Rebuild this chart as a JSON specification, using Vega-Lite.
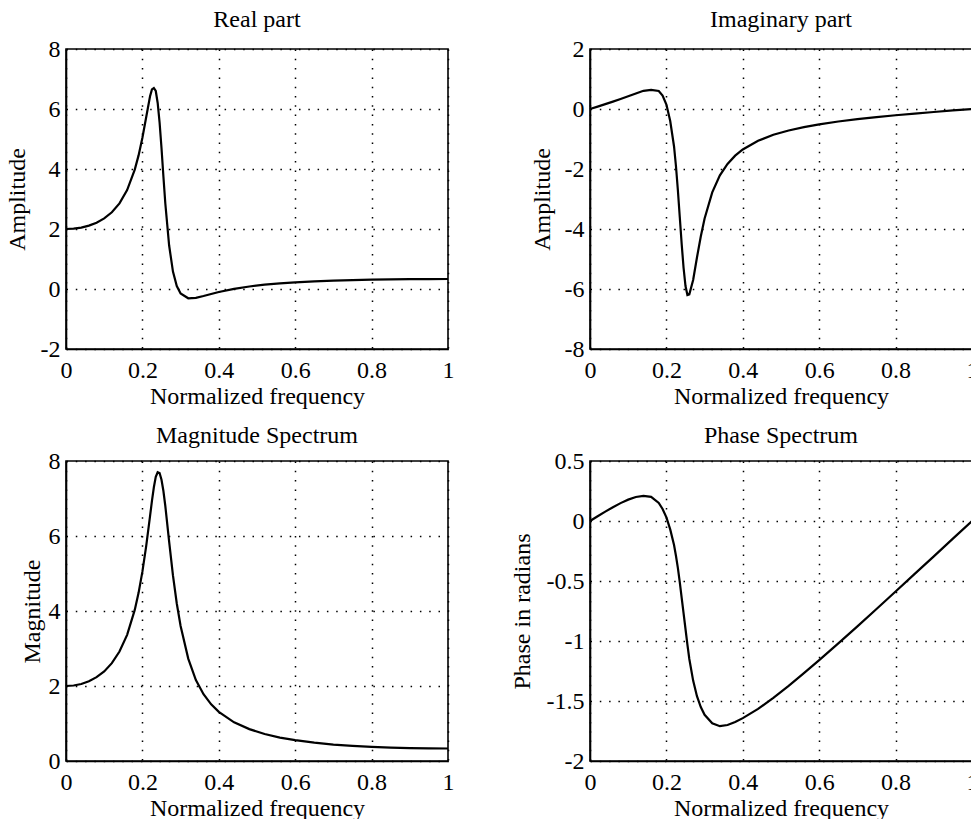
{
  "$schema": "https://vega.github.io/schema/vega-lite/v6.json",
  "padding": {"left": 4, "top": 7, "right": -8, "bottom": 0},
  "background": "white",
  "datasets": {
    "h": [
      {"f": 0, "re": 2.000, "im": 0.000, "mag": 2.000, "ph": 0.000},
      {"f": 0.02, "re": 2.011, "im": 0.080, "mag": 2.013, "ph": 0.040},
      {"f": 0.04, "re": 2.048, "im": 0.161, "mag": 2.054, "ph": 0.078},
      {"f": 0.06, "re": 2.112, "im": 0.245, "mag": 2.126, "ph": 0.115},
      {"f": 0.08, "re": 2.210, "im": 0.332, "mag": 2.235, "ph": 0.149},
      {"f": 0.10, "re": 2.352, "im": 0.424, "mag": 2.390, "ph": 0.178},
      {"f": 0.12, "re": 2.557, "im": 0.518, "mag": 2.609, "ph": 0.200},
      {"f": 0.14, "re": 2.854, "im": 0.607, "mag": 2.918, "ph": 0.210},
      {"f": 0.16, "re": 3.297, "im": 0.640, "mag": 3.364, "ph": 0.201},
      {"f": 0.18, "re": 3.979, "im": 0.600, "mag": 4.029, "ph": 0.150},
      {"f": 0.19, "re": 4.454, "im": 0.450, "mag": 4.484, "ph": 0.100},
      {"f": 0.20, "re": 5.042, "im": 0.150, "mag": 5.049, "ph": 0.030},
      {"f": 0.21, "re": 5.732, "im": -0.400, "mag": 5.737, "ph": -0.070},
      {"f": 0.22, "re": 6.427, "im": -1.250, "mag": 6.530, "ph": -0.200},
      {"f": 0.225, "re": 6.650, "im": -1.900, "mag": 6.936, "ph": -0.290},
      {"f": 0.23, "re": 6.700, "im": -2.700, "mag": 7.300, "ph": -0.390},
      {"f": 0.235, "re": 6.600, "im": -3.600, "mag": 7.580, "ph": -0.510},
      {"f": 0.24, "re": 6.200, "im": -4.500, "mag": 7.700, "ph": -0.640},
      {"f": 0.245, "re": 5.550, "im": -5.300, "mag": 7.680, "ph": -0.770},
      {"f": 0.25, "re": 4.700, "im": -5.900, "mag": 7.500, "ph": -0.900},
      {"f": 0.255, "re": 3.750, "im": -6.200, "mag": 7.200, "ph": -1.030},
      {"f": 0.26, "re": 2.850, "im": -6.180, "mag": 6.800, "ph": -1.150},
      {"f": 0.27, "re": 1.450, "im": -5.700, "mag": 5.850, "ph": -1.330},
      {"f": 0.28, "re": 0.580, "im": -4.950, "mag": 4.950, "ph": -1.460},
      {"f": 0.29, "re": 0.100, "im": -4.250, "mag": 4.200, "ph": -1.550},
      {"f": 0.30, "re": -0.150, "im": -3.650, "mag": 3.600, "ph": -1.615},
      {"f": 0.32, "re": -0.310, "im": -2.780, "mag": 2.730, "ph": -1.685},
      {"f": 0.34, "re": -0.295, "im": -2.210, "mag": 2.160, "ph": -1.710},
      {"f": 0.36, "re": -0.235, "im": -1.830, "mag": 1.780, "ph": -1.700},
      {"f": 0.38, "re": -0.165, "im": -1.555, "mag": 1.510, "ph": -1.675},
      {"f": 0.40, "re": -0.100, "im": -1.350, "mag": 1.310, "ph": -1.643},
      {"f": 0.44, "re": 0.005, "im": -1.060, "mag": 1.030, "ph": -1.566},
      {"f": 0.48, "re": 0.084, "im": -0.860, "mag": 0.850, "ph": -1.474},
      {"f": 0.52, "re": 0.143, "im": -0.715, "mag": 0.720, "ph": -1.374},
      {"f": 0.56, "re": 0.188, "im": -0.602, "mag": 0.625, "ph": -1.268},
      {"f": 0.60, "re": 0.223, "im": -0.510, "mag": 0.556, "ph": -1.159},
      {"f": 0.65, "re": 0.256, "im": -0.416, "mag": 0.488, "ph": -1.020},
      {"f": 0.70, "re": 0.280, "im": -0.337, "mag": 0.438, "ph": -0.878},
      {"f": 0.75, "re": 0.299, "im": -0.269, "mag": 0.402, "ph": -0.733},
      {"f": 0.80, "re": 0.312, "im": -0.208, "mag": 0.375, "ph": -0.588},
      {"f": 0.85, "re": 0.322, "im": -0.152, "mag": 0.356, "ph": -0.441},
      {"f": 0.90, "re": 0.329, "im": -0.100, "mag": 0.343, "ph": -0.295},
      {"f": 0.95, "re": 0.332, "im": -0.049, "mag": 0.336, "ph": -0.147},
      {"f": 1.0, "re": 0.334, "im": 0.000, "mag": 0.334, "ph": 0.000}
    ]
  },
  "columns": 2,
  "bounds": "flush",
  "spacing": {"row": 112, "column": 142},
  "concat": [
    {
      "title": {"text": "Real part", "offset": 5},
      "width": 382, "height": 300,
      "data": {"name": "h"},
      "mark": {"type": "line", "color": "black", "strokeWidth": 2.2},
      "encoding": {
        "x": {"field": "f", "type": "quantitative", "scale": {"domain": [0, 1], "nice": false},
              "axis": {"title": "Normalized frequency", "values": [0, 0.2, 0.4, 0.6, 0.8, 1], "labelExpr": "replace(format(datum.value, '~g'), '−', '-')"}},
        "y": {"field": "re", "type": "quantitative", "scale": {"domain": [-2, 8], "nice": false, "zero": false},
              "axis": {"title": "Amplitude", "values": [-2, 0, 2, 4, 6, 8], "titleX": -49, "titleY": 150, "labelExpr": "replace(format(datum.value, '~g'), '−', '-')"}}
      }
    },
    {
      "title": {"text": "Imaginary part", "offset": 5},
      "width": 382, "height": 300,
      "data": {"name": "h"},
      "mark": {"type": "line", "color": "black", "strokeWidth": 2.2},
      "encoding": {
        "x": {"field": "f", "type": "quantitative", "scale": {"domain": [0, 1], "nice": false},
              "axis": {"title": "Normalized frequency", "values": [0, 0.2, 0.4, 0.6, 0.8, 1], "labelExpr": "replace(format(datum.value, '~g'), '−', '-')"}},
        "y": {"field": "im", "type": "quantitative", "scale": {"domain": [-8, 2], "nice": false, "zero": false},
              "axis": {"title": "Amplitude", "values": [-8, -6, -4, -2, 0, 2], "titleX": -48, "titleY": 150, "labelExpr": "replace(format(datum.value, '~g'), '−', '-')"}}
      }
    },
    {
      "title": {"text": "Magnitude Spectrum", "offset": 1},
      "width": 382, "height": 300,
      "data": {"name": "h"},
      "mark": {"type": "line", "color": "black", "strokeWidth": 2.2},
      "encoding": {
        "x": {"field": "f", "type": "quantitative", "scale": {"domain": [0, 1], "nice": false},
              "axis": {"title": "Normalized frequency", "values": [0, 0.2, 0.4, 0.6, 0.8, 1], "labelExpr": "replace(format(datum.value, '~g'), '−', '-')"}},
        "y": {"field": "mag", "type": "quantitative", "scale": {"domain": [0, 8], "nice": false, "zero": false},
              "axis": {"title": "Magnitude", "values": [0, 2, 4, 6, 8], "titleX": -34, "titleY": 150, "labelExpr": "replace(format(datum.value, '~g'), '−', '-')"}}
      }
    },
    {
      "title": {"text": "Phase Spectrum", "offset": 1},
      "width": 382, "height": 300,
      "data": {"name": "h"},
      "mark": {"type": "line", "color": "black", "strokeWidth": 2.2},
      "encoding": {
        "x": {"field": "f", "type": "quantitative", "scale": {"domain": [0, 1], "nice": false},
              "axis": {"title": "Normalized frequency", "values": [0, 0.2, 0.4, 0.6, 0.8, 1], "labelExpr": "replace(format(datum.value, '~g'), '−', '-')"}},
        "y": {"field": "ph", "type": "quantitative", "scale": {"domain": [-2, 0.5], "nice": false, "zero": false},
              "axis": {"title": "Phase in radians", "values": [-2, -1.5, -1, -0.5, 0, 0.5], "titleX": -68, "titleY": 150, "labelExpr": "replace(format(datum.value, '~g'), '−', '-')"}}
      }
    }
  ],
  "config": {
    "font": "Liberation Serif",
    "view": {"stroke": "black", "strokeWidth": 1.6},
    "axis": {
      "domainColor": "black", "domainWidth": 1.6,
      "grid": true, "gridColor": "black", "gridOpacity": 1, "gridDash": [1.5, 7.8], "gridWidth": 1.5,
      "ticks": false, "tickSize": 0,
      "labelFont": "Liberation Serif", "labelFontSize": 24, "labelColor": "black", "labelFlush": false, "labelOverlap": false,
      "titleFont": "Liberation Serif", "titleFontSize": 24, "titleFontWeight": "normal", "titleColor": "black"
    },
    "axisX": {"labelBaseline": "alphabetic", "labelPadding": 28, "titleBaseline": "alphabetic", "titleY": 54},
    "axisY": {"labelPadding": 6, "labelBaseline": "middle", "titleBaseline": "middle", "titleAngle": -90},
    "title": {"font": "Liberation Serif", "fontSize": 24, "fontWeight": "normal", "color": "black", "baseline": "alphabetic", "anchor": "middle"}
  }
}
